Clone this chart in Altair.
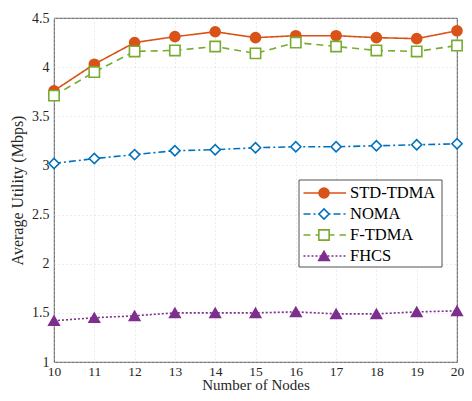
import altair as alt
import pandas as pd

nodes = [10, 11, 12, 13, 14, 15, 16, 17, 18, 19, 20]
std_tdma = [3.76, 4.03, 4.25, 4.31, 4.36, 4.30, 4.32, 4.32, 4.30, 4.29, 4.37]
noma = [3.02, 3.07, 3.11, 3.15, 3.16, 3.18, 3.19, 3.19, 3.20, 3.21, 3.22]
f_tdma = [3.71, 3.95, 4.16, 4.17, 4.21, 4.14, 4.25, 4.21, 4.17, 4.16, 4.22]
fhcs = [1.42, 1.45, 1.47, 1.50, 1.50, 1.50, 1.51, 1.49, 1.49, 1.51, 1.52]

series_names = ["STD-TDMA", "NOMA", "F-TDMA", "FHCS"]
colors = ["#D95319", "#0072BD", "#77AC30", "#7E2F8E"]
fills = ["#D95319", "#FFFFFF", "#FFFFFF", "#7E2F8E"]
shapes = ["circle", "diamond", "square", "triangle-up"]
sizes = [100, 110, 42, 120]
dashes = [[1, 0], [7, 3, 2, 3], [7, 5], [2, 2]]
y_ticks = [1, 1.5, 2, 2.5, 3, 3.5, 4, 4.5]

rows = []
for name, vals in zip(series_names, [std_tdma, noma, f_tdma, fhcs]):
    for n, v in zip(nodes, vals):
        rows.append({"nodes": n, "utility": v, "series": name})
df = pd.DataFrame(rows)
leg_df = pd.DataFrame({"series": series_names})

FONT = "Liberation Serif"
color_scale = alt.Scale(domain=series_names, range=colors)
fill_scale = alt.Scale(domain=series_names, range=fills)
shape_scale = alt.Scale(domain=series_names, range=shapes)
size_scale = alt.Scale(domain=series_names, range=sizes)
dash_scale = alt.Scale(domain=series_names, range=dashes)

x_enc = alt.X("nodes:Q", scale=alt.Scale(domain=[10, 20], nice=False, zero=False),
              axis=alt.Axis(values=nodes, title="Number of Nodes", labelPadding=2,
                            labelFontSize=13.5, titlePadding=0, titleFontSize=15))
y_enc = alt.Y("utility:Q", scale=alt.Scale(domain=[1, 4.5], nice=False, zero=False),
              axis=alt.Axis(values=y_ticks, format="~g", title="Average Utility (Mbps)",
                            labelPadding=5, titlePadding=6))

base = alt.Chart(df).encode(x=x_enc, y=y_enc)
lines = base.mark_line(strokeWidth=1.6).encode(
    color=alt.Color("series:N", scale=color_scale, legend=None),
    strokeDash=alt.StrokeDash("series:N", scale=dash_scale, legend=None),
)
points = base.mark_point(filled=False, strokeWidth=1.6, opacity=1).encode(
    color=alt.Color("series:N", scale=color_scale, legend=None),
    fill=alt.Fill("series:N", scale=fill_scale, legend=None),
    shape=alt.Shape("series:N", scale=shape_scale, legend=None),
    size=alt.Size("series:N", scale=size_scale, legend=None),
)
main = alt.layer(lines, points)

leg_y = alt.Y("series:N", scale=alt.Scale(type="point", domain=series_names,
                                           range=[175, 238], padding=0), axis=None)
box = alt.Chart(pd.DataFrame({"k": [0]})).mark_rect(
    fill="white", stroke="#262626", strokeWidth=0.8
).encode(x=alt.value(245), x2=alt.value(388), y=alt.value(162), y2=alt.value(249))
leg_rules = alt.Chart(leg_df).mark_rule(strokeWidth=1.6).encode(
    x=alt.value(249.5), x2=alt.value(292), y=leg_y,
    color=alt.Color("series:N", scale=color_scale, legend=None),
    strokeDash=alt.StrokeDash("series:N", scale=dash_scale, legend=None),
)
leg_pts = alt.Chart(leg_df).mark_point(filled=False, strokeWidth=1.6, opacity=1).encode(
    x=alt.value(270), y=leg_y,
    color=alt.Color("series:N", scale=color_scale, legend=None),
    fill=alt.Fill("series:N", scale=fill_scale, legend=None),
    shape=alt.Shape("series:N", scale=shape_scale, legend=None),
    size=alt.Size("series:N", scale=size_scale, legend=None),
)
leg_text = alt.Chart(leg_df).mark_text(
    align="left", baseline="middle", font=FONT, fontSize=16.5, color="#000000"
).encode(x=alt.value(296), y=leg_y, text="series:N")
legend = alt.layer(box, leg_rules, leg_pts, leg_text)

chart = alt.layer(main, legend).resolve_scale(y="independent").properties(
    width=403, height=344,
    autosize=alt.AutoSizeParams(type="none"),
    padding={"left": 46, "top": 10, "right": 7, "bottom": 31},
).configure_view(stroke="#262626", strokeWidth=0.8).configure_axis(
    grid=True, gridDash=[1, 3], gridColor="#cfcfcf", gridWidth=0.8,
    domain=False, ticks=False, labelFlush=False,
    labelFont=FONT, labelFontSize=14, labelColor="#262626",
    titleFont=FONT, titleFontSize=16, titleFontWeight="normal", titleColor="#262626",
).configure_legend(disable=True)

chart.save("out.html", embed_options={"renderer": "svg", "actions": False})
